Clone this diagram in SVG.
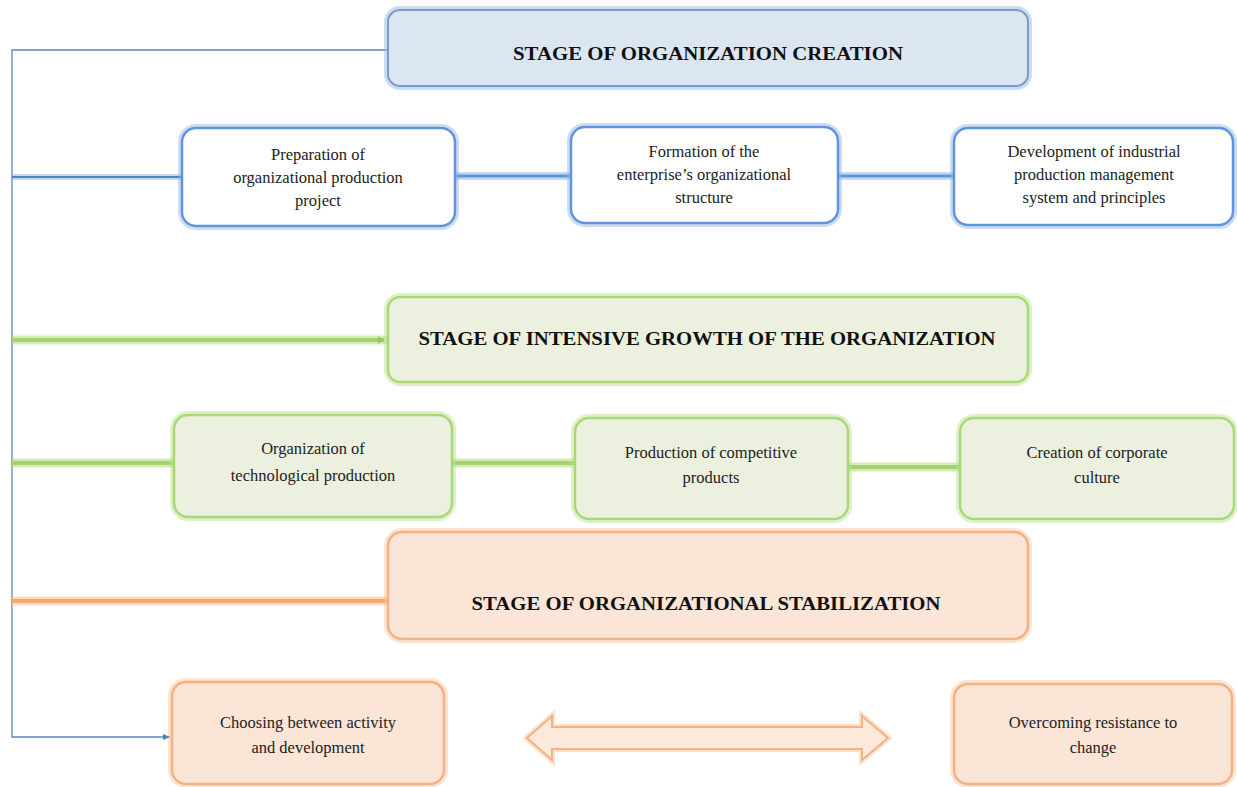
<svg xmlns="http://www.w3.org/2000/svg" width="1237" height="787" viewBox="0 0 1237 787">
<style>
.t{font-family:"Liberation Serif","Times New Roman",serif;font-size:16.5px;fill:#222;text-anchor:middle}
.h{font-family:"Liberation Serif","Times New Roman",serif;font-size:18px;font-weight:bold;fill:#111;text-anchor:middle}
.bglow{fill:none;stroke:#8db3e2;stroke-width:8;stroke-opacity:0.45}
.gglow{fill:none;stroke:#b8e08c;stroke-width:8;stroke-opacity:0.45}
.oglow{fill:none;stroke:#f8c49a;stroke-width:8;stroke-opacity:0.45}
.bh{fill:#dce6f2;stroke:#7b9cc8;stroke-width:2}
.bb{fill:#ffffff;stroke:#5f95dc;stroke-width:2.5}
.gb{fill:#ebf1de;stroke:#a9d977;stroke-width:2.5}
.ob{fill:#fbe5d6;stroke:#f4b183;stroke-width:2.5}
</style>
<defs>
<marker id="ah" markerWidth="8" markerHeight="8" refX="7" refY="4" orient="auto" markerUnits="userSpaceOnUse">
<path d="M0,1 L7,4 L0,7 z" fill="#4f7fb8"/>
</marker>
<marker id="ahg" markerWidth="8" markerHeight="10" refX="6" refY="5" orient="auto" markerUnits="userSpaceOnUse">
<path d="M0,1 L6,5 L0,9 z" fill="#8fcf55"/>
</marker>
</defs>
<g id="connectors">
<polyline points="388,50 12,50 12,737 170,737" fill="none" stroke="#5a86bf" stroke-width="1.3" marker-end="url(#ah)"/>
<line x1="12" y1="177" x2="182" y2="177" stroke="#8db3e2" stroke-width="6" stroke-opacity="0.5"/>
<line x1="12" y1="177" x2="182" y2="177" stroke="#4f81bd" stroke-width="2"/>
<line x1="455" y1="176" x2="571" y2="176" stroke="#8db3e2" stroke-width="8" stroke-opacity="0.5"/>
<line x1="455" y1="176" x2="571" y2="176" stroke="#5f95dc" stroke-width="3"/>
<line x1="838" y1="176" x2="954" y2="176" stroke="#8db3e2" stroke-width="8" stroke-opacity="0.5"/>
<line x1="838" y1="176" x2="954" y2="176" stroke="#5f95dc" stroke-width="3"/>
<line x1="12" y1="340" x2="388" y2="340" stroke="#b8e08c" stroke-width="9" stroke-opacity="0.6"/>
<line x1="12" y1="340" x2="384" y2="340" stroke="#a3d36c" stroke-width="4" marker-end="url(#ahg)"/>
<line x1="12" y1="463" x2="174" y2="463" stroke="#b8e08c" stroke-width="9" stroke-opacity="0.6"/>
<line x1="12" y1="463" x2="174" y2="463" stroke="#a3d36c" stroke-width="4"/>
<line x1="452" y1="463" x2="575" y2="463" stroke="#b8e08c" stroke-width="9" stroke-opacity="0.6"/>
<line x1="452" y1="463" x2="575" y2="463" stroke="#a3d36c" stroke-width="4"/>
<line x1="848" y1="467" x2="960" y2="467" stroke="#b8e08c" stroke-width="9" stroke-opacity="0.6"/>
<line x1="848" y1="467" x2="960" y2="467" stroke="#a3d36c" stroke-width="4"/>
<line x1="12" y1="601" x2="388" y2="601" stroke="#f8c49a" stroke-width="9" stroke-opacity="0.6"/>
<line x1="12" y1="601" x2="388" y2="601" stroke="#f4a870" stroke-width="4"/>
<path d="M527,738 L552,716 L552,727 L862,727 L862,716 L888,738 L862,760 L862,749 L552,749 L552,760 Z" fill="#f8c49a" fill-opacity="0.35" stroke="#f8c49a" stroke-width="6" stroke-opacity="0.5"/>
<path d="M527,738 L552,716 L552,727 L862,727 L862,716 L888,738 L862,760 L862,749 L552,749 L552,760 Z" fill="#fde9d9" stroke="#f4b183" stroke-width="2"/>
</g>
<g id="stage1">
<rect class="bglow" x="388" y="10" width="640" height="76" rx="12"/>
<rect class="bh" x="388" y="10" width="640" height="76" rx="12"/>
<text class="h" x="708" y="60" textLength="390" lengthAdjust="spacingAndGlyphs">STAGE OF ORGANIZATION  CREATION</text>
</g>
<g id="n1">
<rect class="bglow" x="182" y="128" width="273" height="98" rx="14"/>
<rect class="bb" x="182" y="128" width="273" height="98" rx="14"/>
<text class="t" x="318" y="160">Preparation of</text>
<text class="t" x="318" y="183">organizational production</text>
<text class="t" x="318" y="206">project</text>
</g>
<g id="n2">
<rect class="bglow" x="571" y="127" width="267" height="96" rx="14"/>
<rect class="bb" x="571" y="127" width="267" height="96" rx="14"/>
<text class="t" x="704" y="157">Formation of the</text>
<text class="t" x="704" y="180">enterprise’s organizational</text>
<text class="t" x="704" y="203">structure</text>
</g>
<g id="n3">
<rect class="bglow" x="954" y="128" width="279" height="97" rx="14"/>
<rect class="bb" x="954" y="128" width="279" height="97" rx="14"/>
<text class="t" x="1094" y="157">Development of industrial</text>
<text class="t" x="1094" y="180">production management</text>
<text class="t" x="1094" y="203">system and principles</text>
</g>
<g id="stage2">
<rect class="gglow" x="388" y="297" width="640" height="85" rx="12"/>
<rect class="gb" x="388" y="297" width="640" height="85" rx="12"/>
<text class="h" x="707" y="345" textLength="577" lengthAdjust="spacingAndGlyphs">STAGE OF INTENSIVE GROWTH  OF THE ORGANIZATION</text>
</g>
<g id="n4">
<rect class="gglow" x="174" y="415" width="278" height="102" rx="14"/>
<rect class="gb" x="174" y="415" width="278" height="102" rx="14"/>
<text class="t" x="313" y="454">Organization of</text>
<text class="t" x="313" y="481">technological production</text>
</g>
<g id="n5">
<rect class="gglow" x="575" y="418" width="273" height="101" rx="14"/>
<rect class="gb" x="575" y="418" width="273" height="101" rx="14"/>
<text class="t" x="711" y="458">Production of competitive</text>
<text class="t" x="711" y="483">products</text>
</g>
<g id="n6">
<rect class="gglow" x="960" y="418" width="274" height="101" rx="14"/>
<rect class="gb" x="960" y="418" width="274" height="101" rx="14"/>
<text class="t" x="1097" y="458">Creation of corporate</text>
<text class="t" x="1097" y="483">culture</text>
</g>
<g id="stage3">
<rect class="oglow" x="388" y="532" width="640" height="107" rx="14"/>
<rect class="ob" x="388" y="532" width="640" height="107" rx="14"/>
<text class="h" x="706" y="610" textLength="469" lengthAdjust="spacingAndGlyphs">STAGE OF ORGANIZATIONAL  STABILIZATION</text>
</g>
<g id="n7">
<rect class="oglow" x="172" y="682" width="272" height="102" rx="14"/>
<rect class="ob" x="172" y="682" width="272" height="102" rx="14"/>
<text class="t" x="308" y="728">Choosing between activity</text>
<text class="t" x="308" y="753">and development</text>
</g>
<g id="n8">
<rect class="oglow" x="954" y="684" width="278" height="100" rx="14"/>
<rect class="ob" x="954" y="684" width="278" height="100" rx="14"/>
<text class="t" x="1093" y="728">Overcoming resistance to</text>
<text class="t" x="1093" y="753">change</text>
</g>
</svg>
